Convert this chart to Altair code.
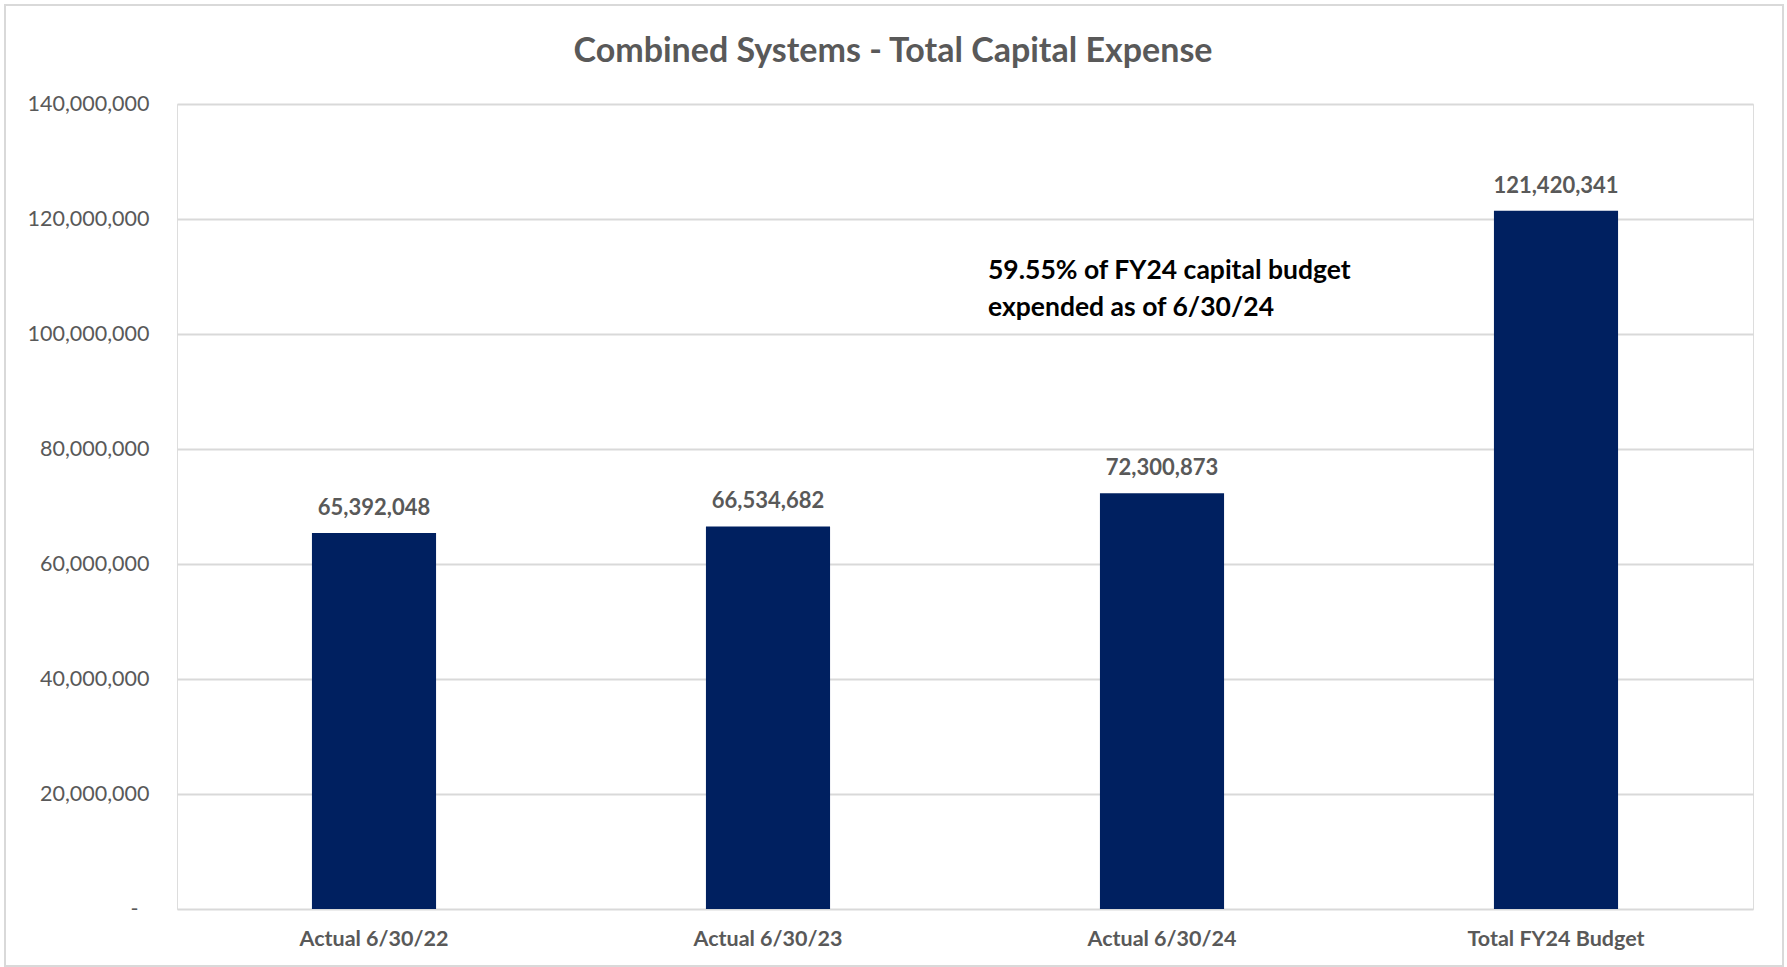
import altair as alt
import pandas as pd

categories = ["Actual 6/30/22", "Actual 6/30/23", "Actual 6/30/24", "Total FY24 Budget"]
values = [65392048, 66534682, 72300873, 121420341]
y_ticks = [0, 20000000, 40000000, 60000000, 80000000, 100000000, 120000000, 140000000]
note_lines = ["59.55% of FY24 capital budget", "expended as of 6/30/24"]
title_text = "Combined Systems - Total Capital Expense"

df = pd.DataFrame({"category": categories, "value": values})
FONT = "Lato"
GRAY = "#595959"

x_enc = alt.X("category:N", sort=categories, title=None,
              scale=alt.Scale(paddingInner=0.685, paddingOuter=0.3425),
              axis=alt.Axis(labelAngle=0, labelFontSize=21.5, labelFont=FONT, labelFontWeight="bold",
                            labelColor=GRAY, labelPadding=19, ticks=False, domain=False, grid=False))
y_enc = alt.Y("value:Q", title=None,
              scale=alt.Scale(domain=[0, 140000000], nice=False),
              axis=alt.Axis(values=y_ticks, labelExpr="datum.value == 0 ? '-' : format(datum.value, ',')",
                            labelFontSize=21.5, labelFont=FONT, labelColor=GRAY,
                            labelPadding=alt.condition("datum.value == 0", alt.value(39), alt.value(28)),
                            ticks=False, domain=False, gridColor="#d9d9d9", gridWidth=2))

bars = alt.Chart(df).mark_bar(color="#002060").encode(x=x_enc, y=y_enc)
labels = alt.Chart(df).mark_text(dy=-25, fontSize=22, font=FONT, fontWeight="bold", color=GRAY).encode(
    x=alt.X("category:N", sort=categories), y="value:Q", text=alt.Text("value:Q", format=","))

note_df = pd.DataFrame({"note": ["\n".join(note_lines)]})
note = alt.Chart(note_df).mark_text(align="left", baseline="middle", fontSize=26.5, font=FONT,
                                    fontWeight="bold", color="#000000", lineBreak="\n",
                                    lineHeight=37).encode(
    x=alt.value(811), y=alt.value(167), text="note:N")

title_df = pd.DataFrame({"t": [title_text]})
title = alt.Chart(title_df).mark_text(align="center", baseline="middle", fontSize=34, font=FONT,
                                      fontWeight="bold", color=GRAY).encode(
    x=alt.value(716), y=alt.value(-52), text="t:N")

border = alt.Chart(pd.DataFrame({"a": [0]})).mark_rect(fill=None, stroke="#d9d9d9", strokeWidth=2).encode(
    x=alt.value(-172), x2=alt.value(1606), y=alt.value(-99), y2=alt.value(862))

chart = alt.layer(border, bars, labels, note, title).properties(
    width=1576, height=805,
    autosize=alt.AutoSizeParams(type="none"),
    padding={"left": 177, "top": 104, "right": 34, "bottom": 58},
).configure_view(stroke=None).configure(background="white")

chart.save("out.html", embed_options={"renderer": "svg", "actions": False})
